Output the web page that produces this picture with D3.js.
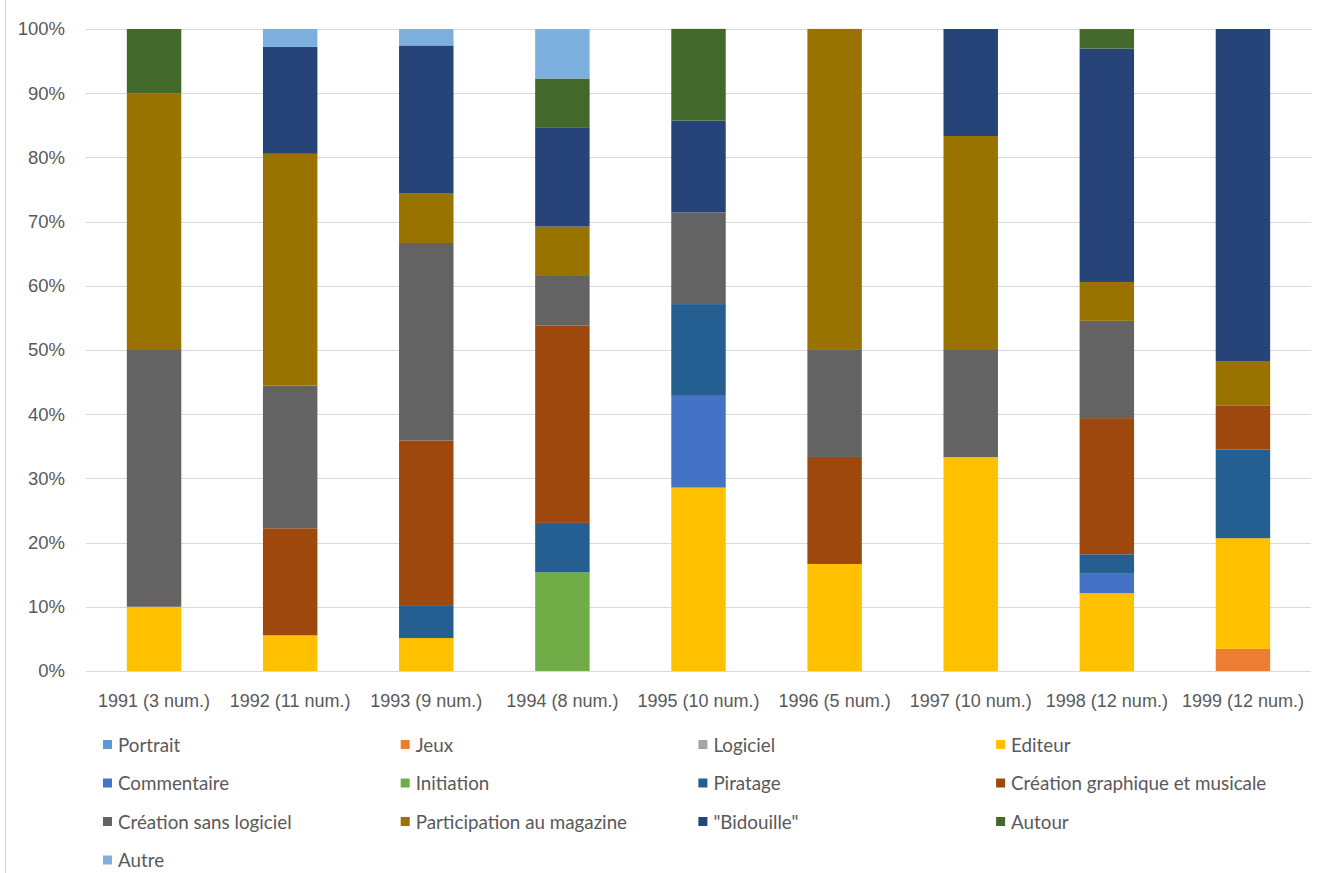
<!DOCTYPE html>
<html>
<head>
<meta charset="utf-8">
<script src="https://cdn.jsdelivr.net/npm/d3@7"></script>
<style>
  body { margin: 0; background: #fff; }
  svg { font-family: Lato, "Open Sans", sans-serif; }
</style>
</head>
<body>
<svg id="chart" width="1325" height="873"></svg>
<script>
// categories (years)
const years = ['1991 (3 num.)', '1992 (11 num.)', '1993 (9 num.)', '1994 (8 num.)', '1995 (10 num.)',
  '1996 (5 num.)', '1997 (10 num.)', '1998 (12 num.)', '1999 (12 num.)'];

// series, bottom to top, values in % per year
const seriesNames = ['Portrait', 'Jeux', 'Logiciel', 'Editeur', 'Commentaire', 'Initiation', 'Piratage',
  'Création graphique et musicale', 'Création sans logiciel', 'Participation au magazine', '"Bidouille"', 'Autour', 'Autre'];
const portrait     = [0, 0, 0, 0, 0, 0, 0, 0, 0];
const jeux         = [0, 0, 0, 0, 0, 0, 0, 0, 3.45];
const logiciel     = [0, 0, 0, 0, 0, 0, 0, 0, 0];
const editeur      = [10, 5.56, 5.13, 0, 28.57, 16.67, 33.33, 12.12, 17.24];
const commentaire  = [0, 0, 0, 0, 14.29, 0, 0, 3.03, 0];
const initiation   = [0, 0, 0, 15.38, 0, 0, 0, 0, 0];
const piratage     = [0, 0, 5.13, 7.69, 14.29, 0, 0, 3.03, 13.79];
const creaGraph    = [0, 16.67, 25.64, 30.77, 0, 16.67, 0, 21.21, 6.90];
const creaSans     = [40, 22.22, 30.77, 7.69, 14.29, 16.67, 16.67, 15.15, 0];
const participation = [40, 36.11, 7.69, 7.69, 0, 50, 33.33, 6.06, 6.90];
const bidouille    = [0, 16.67, 23.08, 15.38, 14.29, 0, 16.67, 36.36, 51.72];
const autour       = [10, 0, 0, 7.69, 14.29, 0, 0, 3.03, 0];
const autre        = [0, 2.78, 2.56, 7.69, 0, 0, 0, 0, 0];
const seriesValues = [portrait, jeux, logiciel, editeur, commentaire, initiation, piratage,
  creaGraph, creaSans, participation, bidouille, autour, autre];
const colors = ['#5B9BD5', '#ED7D31', '#A5A5A5', '#FFC000', '#4472C4', '#70AD47', '#255E91',
  '#9E480E', '#636363', '#997300', '#264478', '#43682B', '#7CAFDD'];
const yTicks = [0, 10, 20, 30, 40, 50, 60, 70, 80, 90, 100];

const svg = d3.select('#chart');
const margin = { top: 29, left: 86, right: 14, bottom: 202 };
const width = 1325 - margin.left - margin.right;
const height = 873 - margin.top - margin.bottom;

// chart area border on the left
svg.append('line').attr('x1', 5.5).attr('x2', 5.5).attr('y1', 0).attr('y2', 873)
  .attr('stroke', '#d9d9d9').attr('stroke-width', 1);

const g = svg.append('g').attr('transform', 'translate(' + margin.left + ',' + margin.top + ')');

const rows = years.map((y, i) => {
  const r = { year: y };
  seriesNames.forEach((s, j) => { r[s] = seriesValues[j][i]; });
  return r;
});
const stacked = d3.stack().keys(seriesNames)(rows);

const x = d3.scaleBand().domain(years).range([0, width]).paddingInner(0.6).paddingOuter(0.3);
const y = d3.scaleLinear().domain([0, 100]).range([height, 0]);

// gridlines
g.append('g').selectAll('line').data(yTicks).join('line')
  .attr('x1', 0).attr('x2', width)
  .attr('y1', d => Math.round(y(d)) + 0.5).attr('y2', d => Math.round(y(d)) + 0.5)
  .attr('stroke', '#d9d9d9').attr('stroke-width', 1);

// y axis labels
const yAxis = d3.axisLeft(y).tickValues(yTicks).tickFormat(d => d + '%').tickSize(0).tickPadding(21);
g.append('g').call(yAxis)
  .call(a => a.select('.domain').remove())
  .selectAll('text').attr('fill', '#595959').attr('font-size', 18.5);

// bars
g.append('g').selectAll('g').data(stacked).join('g')
  .attr('fill', (d, i) => colors[i])
  .selectAll('rect').data(d => d).join('rect')
  .attr('x', d => x(d.data.year))
  .attr('width', x.bandwidth())
  .attr('y', d => y(d[1]))
  .attr('height', d => y(d[0]) - y(d[1]));

// x axis labels
const xAxis = d3.axisBottom(x).tickSize(0).tickPadding(23);
g.append('g').attr('transform', 'translate(0,' + height + ')').call(xAxis)
  .call(a => a.select('.domain').remove())
  .selectAll('text').attr('fill', '#595959').attr('font-size', 18);

// legend
const legend = svg.append('g');
const colW = 297.7, rowH = 38.5;
const items = legend.selectAll('g').data(seriesNames).join('g')
  .attr('transform', (d, i) => 'translate(' + (103 + (i % 4) * colW) + ',' + (745 + Math.floor(i / 4) * rowH) + ')');
items.append('rect').attr('x', 0).attr('y', -5).attr('width', 9).attr('height', 9)
  .attr('fill', (d, i) => colors[i]);
items.append('text').attr('x', 15).attr('y', 0).attr('dy', '0.35em')
  .attr('fill', '#595959').attr('font-size', 18.8).text(d => d);
</script>
</body>
</html>
